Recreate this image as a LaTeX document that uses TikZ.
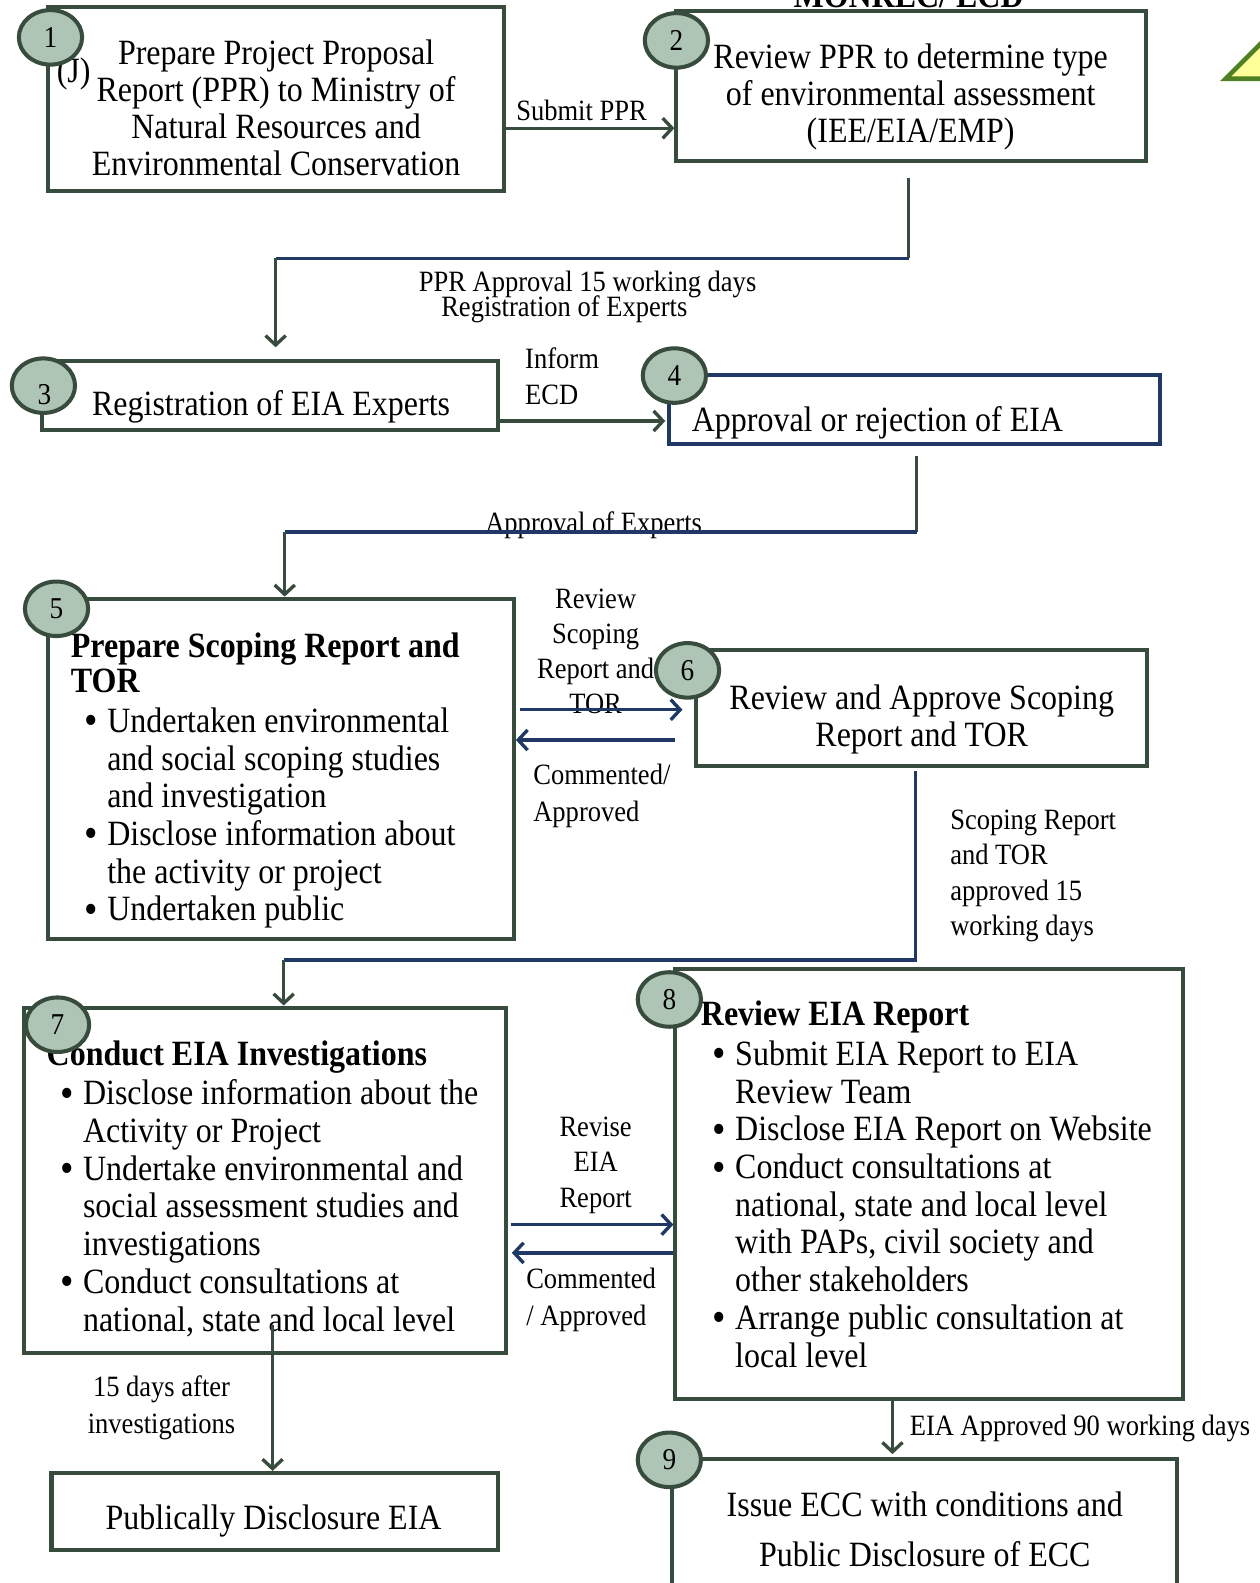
\documentclass[tikz,border=0pt]{standalone}
\usepackage{fontspec}
\setmainfont{Liberation Serif}[FakeStretch=0.9]
\usetikzlibrary{arrows.meta,shapes.geometric,fit}
\definecolor{dkgreen}{RGB}{56,76,62}
\definecolor{navyblue}{RGB}{31,56,100}
\definecolor{sage}{RGB}{174,196,181}
\definecolor{trifill}{RGB}{255,255,153}
\definecolor{trigreen}{RGB}{79,129,36}
\newcommand\mybul{\llap{\raisebox{-1.8pt}{\scalebox{1.2}{\textbullet}}\hspace{7pt}}}
\tikzset{
  box/.style={rectangle, draw=dkgreen, line width=3pt, inner sep=0pt},
  numc/.style={ellipse, draw=dkgreen, fill=sage, line width=3pt, minimum width=47pt, minimum height=40.5pt, inner sep=0pt, font=\fontsize{22.5}{24}\selectfont},
  numtxt/.style={inner sep=0pt, font=\fontsize{22.5}{24}\selectfont},
  bigtxt/.style={inner sep=0pt, font=\fontsize{26.4}{27.5}\selectfont},
  listtxt/.style={inner sep=0pt, align=left, font=\fontsize{26.4}{28}\selectfont},
  smalltxt/.style={inner sep=0pt, font=\fontsize{21.9}{26.5}\selectfont},
  conn/.style={draw=dkgreen, line width=2.5pt},
  navyconn/.style={draw=navyblue, line width=2.5pt},
  arr/.style={-{Straight Barb[length=7pt,width=15pt]}},
}
\begin{document}
\begin{tikzpicture}[x=0.75pt,y=-0.75pt]
\useasboundingbox (0,0) rectangle (1248,1568);
\clip (0,0) rectangle (1248,1568);

% heading (clipped)
\node[bigtxt, font=\fontsize{26.4}{27.5}\selectfont\bfseries, anchor=base] (hd) at (900,7) {MONREC/ ECD};

% boxes
\node[box, fit={(48,7)(499,189)}] (b1) {};
\node[box, fit={(670,11)(1135,159)}] (b2) {};
\node[box, fit={(42,358)(493,426)}] (b3) {};
\node[box, draw=navyblue, fit={(663,371)(1149,440)}] (b4) {};
\node[box, fit={(48,593)(509,930)}] (b5) {};
\node[box, fit={(689,644)(1136,759)}] (b6) {};
\node[box, fit={(24,998)(501,1340)}] (b7) {};
\node[box, fit={(669,960)(1172,1386)}] (b8) {};
\node[box, fit={(51,1459)(493,1535)}] (bpub) {};
\node[box, fit={(666,1445)(1166,1610)}] (b9) {};

% box texts
\node[bigtxt, anchor=north west] (tj) at (56,56) {\strut(J)};
\node[bigtxt, align=center, anchor=north] (t1) at (273.5,38) {\strut Prepare Project Proposal\\Report (PPR) to Ministry of\\Natural Resources and\\Environmental Conservation};
\node[bigtxt, align=center, anchor=north] (t2) at (902,42) {\strut Review PPR to determine type\\of environmental assessment\\(IEE/EIA/EMP)};
\node[bigtxt, anchor=north west] (t3) at (91,386) {\strut Registration of EIA Experts};
\node[bigtxt, anchor=north west] (t4) at (685,401) {\strut Approval or rejection of EIA};
\node[listtxt, font=\fontsize{26.4}{26.3}\selectfont\bfseries, anchor=north west] (t5h) at (70,626) {\strut Prepare Scoping Report and\\TOR};
\node[listtxt, anchor=north west] (t5) at (106,699) {\strut\mybul Undertaken environmental\\and social scoping studies\\and investigation\\\mybul Disclose information about\\the activity or project\\\mybul Undertaken public};
\node[bigtxt, align=center, anchor=north] (t6) at (913,677) {\strut Review and Approve Scoping\\Report and TOR};
\node[listtxt, font=\fontsize{26.4}{28}\selectfont\bfseries, anchor=north west] (t7h) at (46,1029) {\strut Conduct EIA Investigations};
\node[listtxt, anchor=north west] (t7) at (82,1068) {\strut\mybul Disclose information about the\\Activity or Project\\\mybul Undertake environmental and\\social assessment studies and\\investigations\\\mybul Conduct consultations at\\national, state and local level};
\node[listtxt, font=\fontsize{26.4}{28}\selectfont\bfseries, anchor=north west] (t8h) at (694,989) {\strut Review EIA Report};
\node[listtxt, anchor=north west] (t8) at (728,1029) {\strut\mybul Submit EIA Report to EIA\\Review Team\\\mybul Disclose EIA Report on Website\\\mybul Conduct consultations at\\national, state and local level\\with PAPs, civil society and\\other stakeholders\\\mybul Arrange public consultation at\\local level};
\node[bigtxt, anchor=north] (tpub) at (271,1489) {\strut Publically Disclosure EIA};
\node[bigtxt, font=\fontsize{26.4}{36.75}\selectfont, align=center, anchor=north] (t9) at (916,1468) {\strut Issue ECC with conditions and\\Public Disclosure of ECC};

% connector labels
\node[smalltxt, anchor=north] (l12) at (576,94) {\strut Submit PPR};
\node[smalltxt, anchor=north] (l23a) at (582,264) {\strut PPR Approval 15 working days};
\node[smalltxt, anchor=north] (l23b) at (559,288) {\strut Registration of Experts};
\node[smalltxt, align=left, anchor=north west] (l34) at (520,340) {\strut Inform\\ECD};
\node[smalltxt, anchor=north] (l45) at (588,502) {\strut Approval of Experts};
\node[smalltxt, font=\fontsize{21.9}{26}\selectfont, align=center, anchor=north] (l56a) at (590,578) {\strut Review\\Scoping\\Report and\\TOR};
\node[smalltxt, font=\fontsize{21.9}{27}\selectfont, align=left, anchor=north west] (l56b) at (528,752) {\strut Commented/\\Approved};
\node[smalltxt, font=\fontsize{21.9}{26.25}\selectfont, align=left, anchor=north west] (l67) at (941,797) {\strut Scoping Report\\and TOR\\approved 15\\working days};
\node[smalltxt, font=\fontsize{21.9}{26.25}\selectfont, align=center, anchor=north] (l78a) at (590,1101) {\strut Revise\\EIA\\Report};
\node[smalltxt, font=\fontsize{21.9}{27}\selectfont, align=left, anchor=north west] (l78b) at (521,1251) {\strut Commented\\/ Approved};
\node[smalltxt, font=\fontsize{21.9}{27}\selectfont, align=center, anchor=north] (l7p) at (160,1358) {\strut 15 days after\\investigations};
\node[smalltxt, anchor=north west] (l89) at (901,1397) {\strut EIA Approved 90 working days};

% connectors
\coordinate (y12) at (0,127);
\draw[conn, arr] (b1.east |- y12) -- (b2.west |- y12);

\coordinate (c2a) at (900,176);
\coordinate (c2b) at (900,256);
\coordinate (c2c) at (273,256);
\coordinate (c2d) at (273,344);
\draw[conn] (c2a) -- (c2b);
\draw[navyconn] (c2b) -- (c2c);
\draw[conn, arr] (c2c) -- (c2d);

\coordinate (y34) at (0,417);
\draw[conn, arr] (b3.east |- y34) -- ([xshift=-1.5pt]b4.west |- y34);

\coordinate (c4a) at (908,452);
\coordinate (c4b) at (908,527);
\coordinate (c4c) at (282,527);
\draw[conn] (c4a) -- (c4b);
\draw[navyconn] (c4b) -- (c4c);
\draw[conn, arr] (c4c) -- (b5.north -| c4c);

\coordinate (y56a) at (0,703);
\coordinate (y56b) at (0,733);
\draw[navyconn, arr] ([xshift=3pt]b5.east |- y56a) -- ([xshift=-8.25pt]b6.west |- y56a);
\draw[navyconn, arr] ([xshift=-14pt]b6.west |- y56b) -- (b5.east |- y56b);

\coordinate (c6a) at (907,764);
\coordinate (c6b) at (907,951);
\coordinate (c6c) at (281,951);
\draw[navyconn] (c6a) -- (c6b) -- (c6c);
\draw[conn, arr] (c6c) -- (b7.north -| c6c);

\coordinate (y78a) at (0,1213);
\coordinate (y78b) at (0,1241);
\draw[navyconn, arr] ([xshift=2pt]b7.east |- y78a) -- (b8.west |- y78a);
\draw[navyconn, arr] (b8.west |- y78b) -- ([xshift=3pt]b7.east |- y78b);

\coordinate (c7a) at (270,1312);
\draw[conn, arr] (c7a) -- (bpub.north -| c7a);

\coordinate (x89) at (884,0);
\draw[conn, arr] (b8.south -| x89) -- ([yshift=2pt]b9.north -| x89);

% number circles
\node[numc] (n1) at (50,37) {1};
\node[numc] (n2) at (670,40) {2};
\node[numc] (n3) at (43,382) {};
\node[numtxt] (n3t) at (44,391) {3};
\node[numc] (n4) at (668,372) {4};
\node[numc] (n5) at (56,603) {5};
\node[numc] (n6) at (681,664) {6};
\node[numc] (n7) at (57,1015) {7};
\node[numc] (n8) at (663,990) {8};
\node[numc] (n9) at (663,1446) {9};

% triangle (clipped)
\draw[draw=trigreen, fill=trifill, line width=3.5pt, line join=miter] (1214,78) -- (1264,28) -- (1314,78) -- cycle;
\end{tikzpicture}
\end{document}
